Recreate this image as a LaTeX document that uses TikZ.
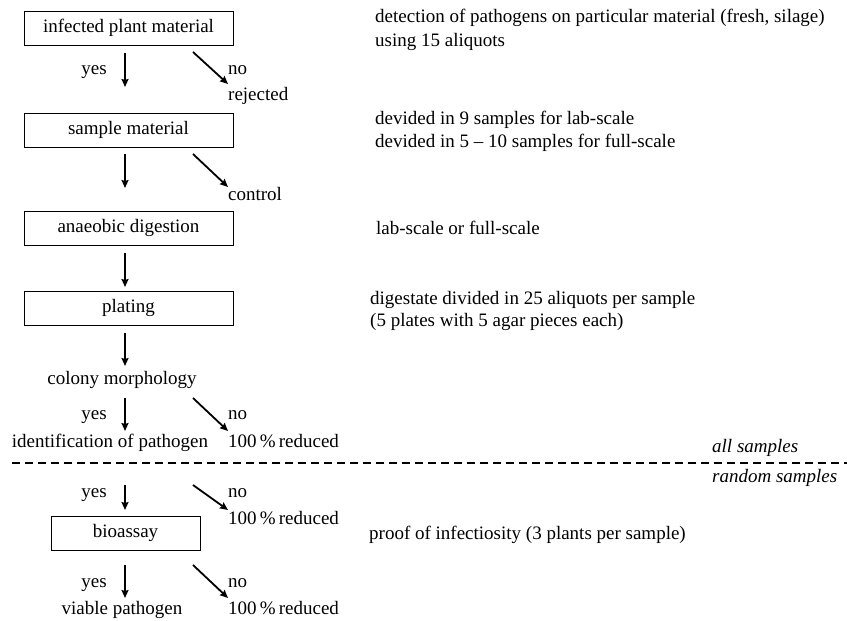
\documentclass[tikz,border=0pt]{standalone}
\usepackage{fontspec}
\setmainfont{Liberation Serif}
\usetikzlibrary{arrows.meta}
\begin{document}
\begin{tikzpicture}[x=1pt,y=-1pt,
  every node/.style={font=\fontsize{19}{23}\selectfont, inner sep=0pt, text height=12pt, text depth=4pt},
  box/.style={draw, line width=1pt, minimum width=209pt, minimum height=34pt},
  lbl/.style={anchor=west},
  arr/.style={line width=1.8pt, -{Stealth[length=8pt,width=7pt,inset=1pt]}}]
\useasboundingbox (0,0) rectangle (847,621);
% boxes
\node[box] (infected) at (128.5,28.5) {infected plant material};
\node[box] (sample) at (128.5,130) {sample material};
\node[box] (anaerobic) at (128.5,228.5) {anaeobic digestion};
\node[box] (plating) at (128.5,308.5) {plating};
\node[box, minimum width=149pt] (bioassay) at (125.5,533.5) {bioassay};
% plain text nodes
\node (colony) at (122,380) {colony morphology};
\node (ident) at (110,443) {identification of pathogen};
\node (viable) at (122,610) {viable pathogen};
% side labels
\node (yes1) at (94,70) {yes};
\node[lbl] (no1) at (228,70) {no};
\node[lbl] (rej) at (228,96) {rejected};
\node[lbl] (ctrl) at (228,196) {control};
\node (yes2) at (94,415) {yes};
\node[lbl] (no2) at (228,415) {no};
\node[lbl] (red1) at (228,443) {100\,\%\,reduced};
\node (yes3) at (94,493) {yes};
\node[lbl] (no3) at (228,493) {no};
\node[lbl] (red2) at (228,520) {100\,\%\,reduced};
\node (yes4) at (94,583) {yes};
\node[lbl] (no4) at (228,583) {no};
\node[lbl] (red3) at (228,610) {100\,\%\,reduced};
% right descriptions
\node[lbl] (d1a) at (375,18) {detection of pathogens on particular material (fresh, silage)};
\node[lbl] (d1b) at (375,42) {using 15 aliquots};
\node[lbl] (d2a) at (375,120) {devided in 9 samples for lab-scale};
\node[lbl] (d2b) at (375,143) {devided in 5 -- 10 samples for full-scale};
\node[lbl] (d3) at (376,230) {lab-scale or full-scale};
\node[lbl] (d4a) at (370,300) {digestate divided in 25 aliquots per sample};
\node[lbl] (d4b) at (370,322) {(5 plates with 5 agar pieces each)};
\node[lbl] (d5) at (369,535) {proof of infectiosity (3 plants per sample)};
\node[lbl, font=\fontsize{19}{23}\selectfont\itshape] (all) at (712,448) {all samples};
\node[lbl, font=\fontsize{19}{23}\selectfont\itshape] (rand) at (712,478) {random samples};
% dashed separator
\coordinate (dl) at (12,463);
\coordinate (dr) at (847,463);
\draw[line width=1.2pt, dash pattern=on 8pt off 5pt] (dl) -- (dr);
% arrow coordinates
\foreach \n/\ya/\yb in {v1/53/87, v2/154/188, v3/253/287, v4/333/366, v5/398/431, v6/485/510, v7/565/598}{
  \coordinate (\n s) at (125,\ya);
  \coordinate (\n e) at (125,\yb);
}
\foreach \n/\ya/\yb in {g1/52/84, g2/154/187, g5/398/431, g6/485/510, g7/565/598}{
  \coordinate (\n s) at (193,\ya);
  \coordinate (\n e) at (228,\yb);
}
\foreach \n in {v1,v2,v3,v4,v5,v6,v7,g1,g2,g5,g6,g7}{
  \draw[arr] (\n s) -- (\n e);
}
\end{tikzpicture}
\end{document}
